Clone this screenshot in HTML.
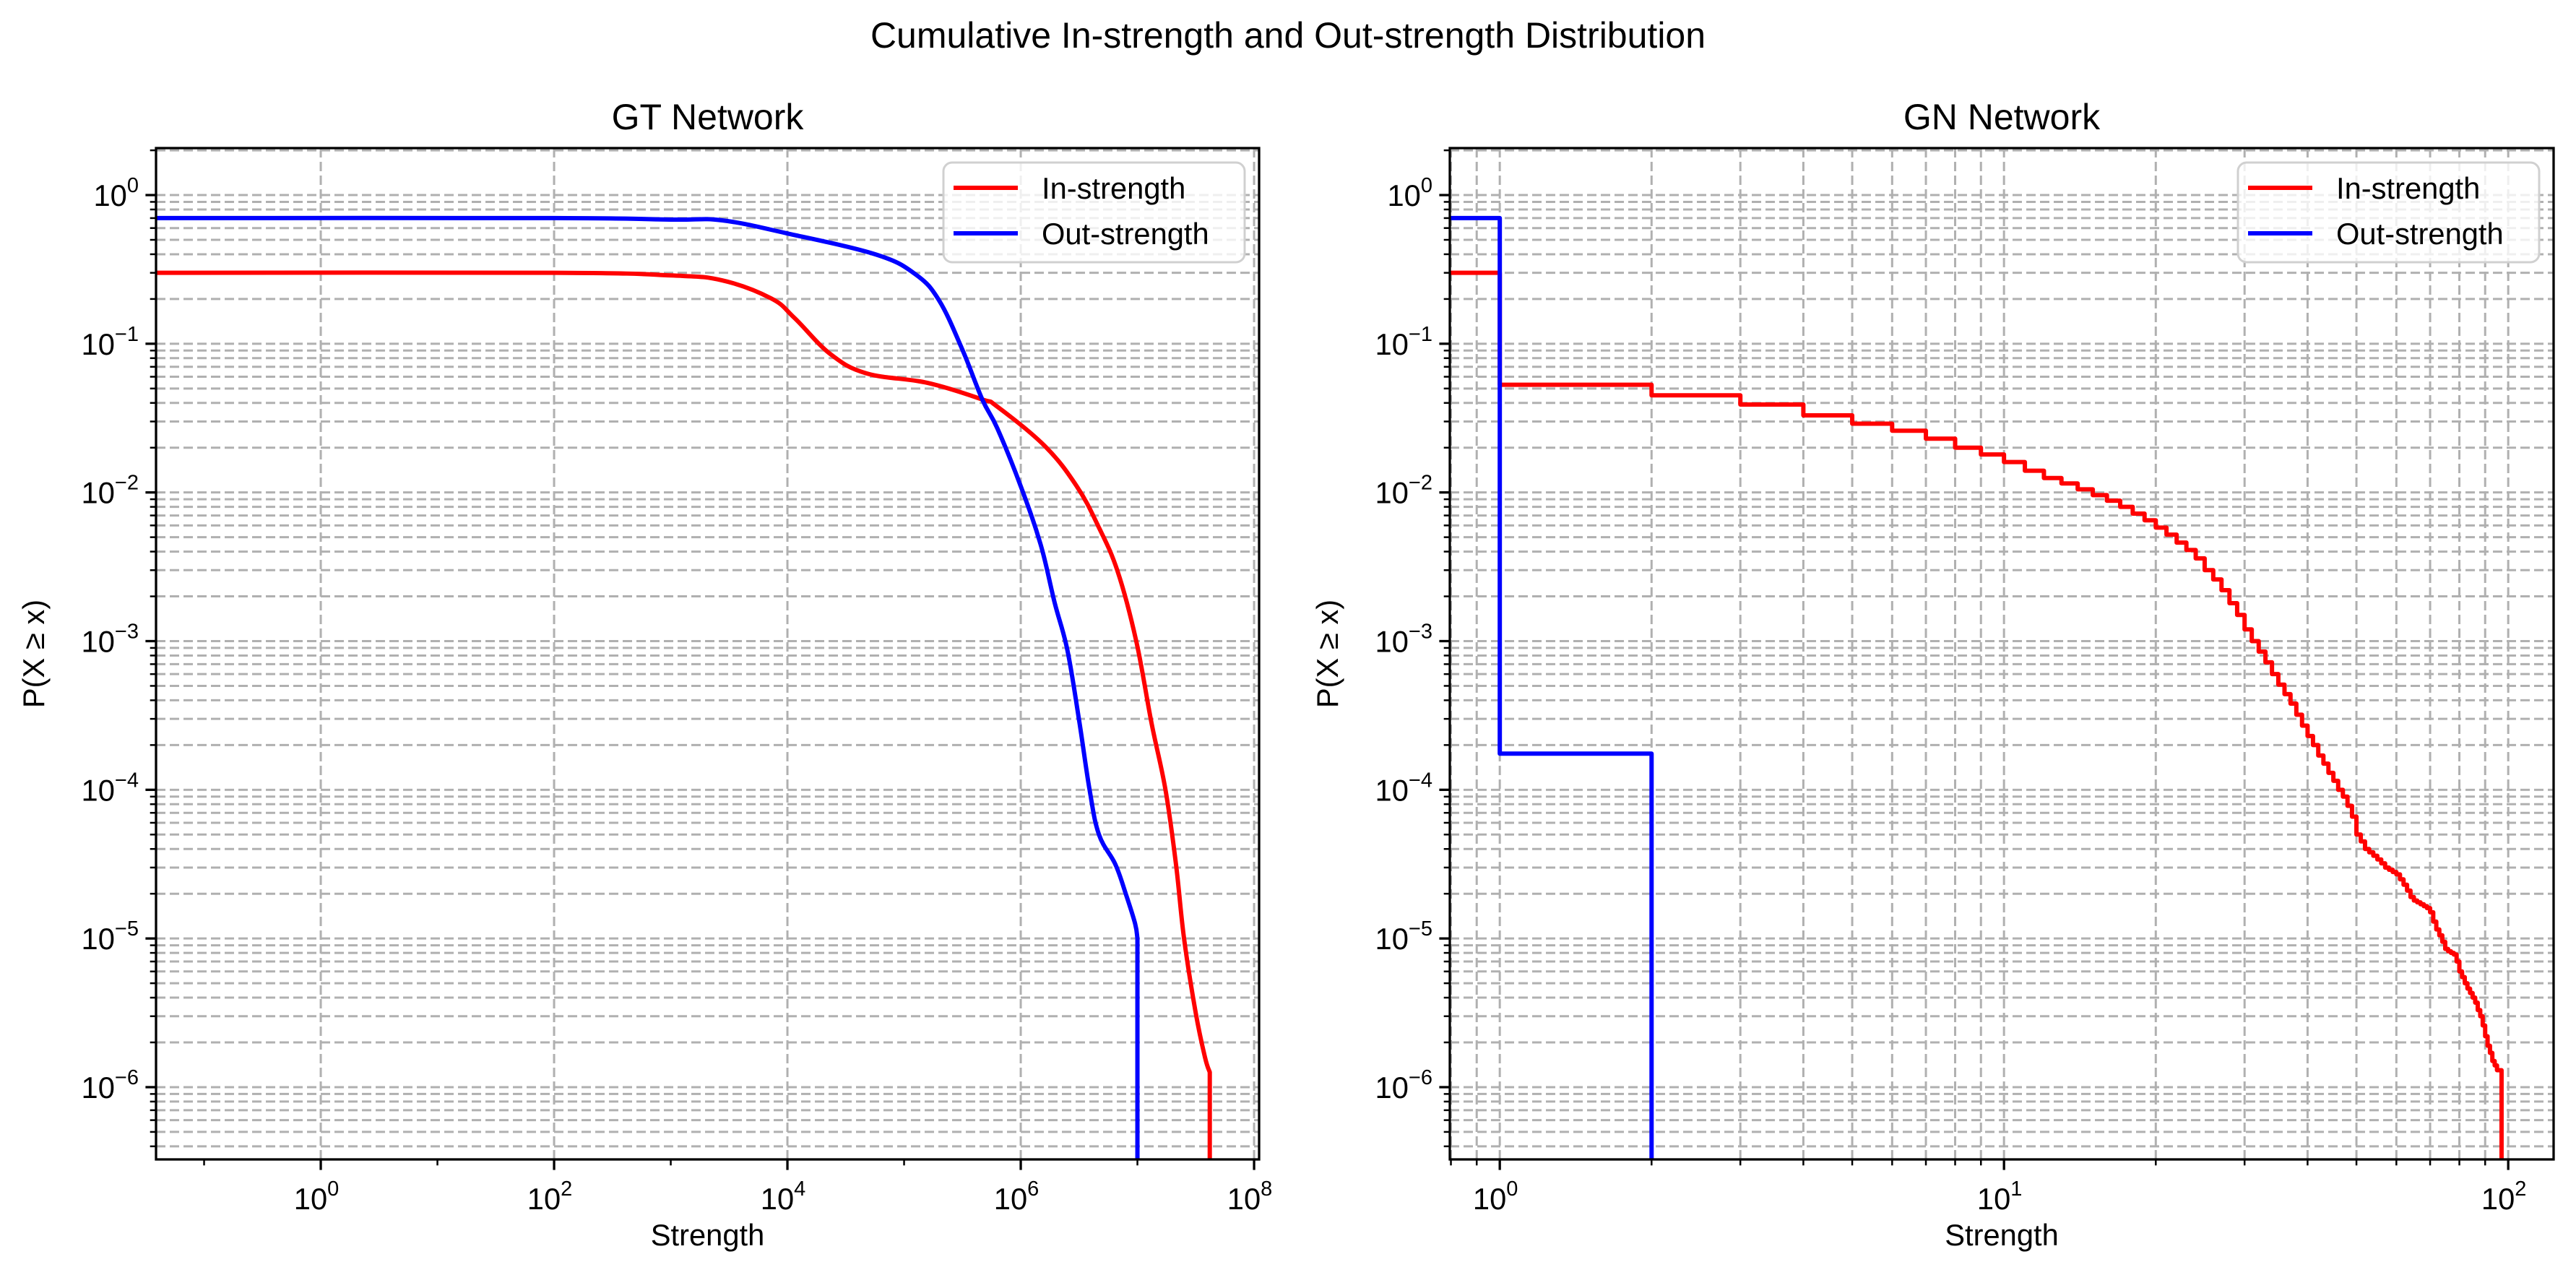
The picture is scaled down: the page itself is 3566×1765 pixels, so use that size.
<!DOCTYPE html>
<html><head><meta charset="utf-8"><style>
html,body{margin:0;padding:0;background:#fff;}
svg{display:block;font-family:"Liberation Sans","DejaVu Sans",sans-serif;}
</style></head><body>
<svg id="fig" width="3566" height="1765" viewBox="0 0 3566 1765" xmlns="http://www.w3.org/2000/svg">
<rect width="3566" height="1765" fill="#fff"/>
<text x="1783" y="66" font-size="50" text-anchor="middle">Cumulative In-strength and Out-strength Distribution</text>
<g id="p1"></g>
<g id="p2"></g>
</svg>
<script>
// GT Network data (strength, P(X>=x))
const gtInX = [0.039,100,1e3,2750,7240,11500,23400,47900,158000,468000,631000,1.62e6,3.02e6,4.57e6,6.76e6,9.77e6,1.32e7,1.74e7,2.14e7,2.51e7,3.16e7,3.8e7,4.17e7,4.17e7];
const gtInY = [0.3,0.3,0.288,0.267,0.202,0.149,0.0851,0.0631,0.0546,0.0422,0.0377,0.0204,0.011,0.00603,0.00295,1e-3,2.82e-4,1e-4,3.16e-5,1e-5,3.16e-6,1.58e-6,1.26e-6,1e-7];
const gtOutX = [0.039,100,1e3,2750,1e4,57500,126000,200000,316000,468000,631000,1e6,1.48e6,1.95e6,2.51e6,3.16e6,3.89e6,4.68e6,6.46e6,7.94e6,9.55e6,1e7,1e7];
const gtOutY = [0.7,0.7,0.684,0.676,0.552,0.398,0.292,0.195,0.0912,0.0422,0.0269,0.011,0.00447,0.00182,8.7e-4,2.95e-4,1e-4,5e-5,3.16e-5,2e-5,1.26e-5,1e-5,1e-7];
// GN Network step data
const gnInX = [0.796,1,2,3,4,5,6,7,8,9,10,11,12,13,14,15,16,17,18,19,20,21,22,23,24,25,26,27,28,29,30,31,32,33,34,35,36,37,38,39,40,41,42,43,44,45,46,47,48,49,50,51,52,53,54,55,56,57,58,59,60,61,62,63,64,65,66,67,68,69,70,71,72,73,74,75,76,77,78,79,80,81,82,83,84,85,86,87,88,89,90,91,92,93,94,95,96,97];
const gnInY = [0.3,0.053,0.045,0.039,0.033,0.029,0.026,0.023,0.020,0.018,0.016,0.014,0.0125,0.0115,0.0105,0.0096,0.0088,0.0080,0.0072,0.0065,0.0058,0.0052,0.0046,0.0041,0.0036,0.0030,0.0026,0.0022,0.0018,0.0015,0.0012,0.001,0.00085,0.00072,0.0006,0.00051,0.00044,0.00038,0.00032,0.00027,0.00023,0.0002,0.00017,0.00015,0.00013,0.000115,0.0001,0.00009,0.000078,0.000066,0.00005,0.000045,0.00004,0.000038,0.000036,0.000034,0.000032,0.00003,0.000029,0.000028,0.000027,0.000025,0.000023,0.000021,0.000019,0.000018,0.0000175,0.000017,0.0000165,0.000016,0.000015,0.000013,0.0000115,0.0000105,0.0000095,0.0000085,0.0000082,0.000008,0.0000078,0.000007,0.000006,0.0000055,0.000005,0.0000046,0.0000043,0.000004,0.0000037,0.0000033,0.000003,0.0000026,0.0000022,0.0000019,0.0000017,0.0000015,0.0000014,0.0000013,0.0000013,1e-7];
const gnOutX = [0.796,1,2];
const gnOutY = [0.7,1.75e-4,1e-7];
const yTickExp = [0,-1,-2,-3,-4,-5,-6];

const NS="http://www.w3.org/2000/svg";
function mk(parent,tag,attrs){const e=document.createElementNS(NS,tag);for(const k in attrs)e.setAttribute(k,attrs[k]);parent.appendChild(e);return e;}
const Y0=205,Y1=1605,LYMIN=-6.486,LYMAX=0.316;
function yPix(v){const l=Math.log10(v);return Y0+(LYMAX-l)/(LYMAX-LYMIN)*(Y1-Y0);}

function smoothPath(pts){
  const n=pts.length;let d='M'+pts[0][0]+','+pts[0][1];
  const last=n-1;
  for(let i=0;i<last-1;i++){
    const p0=pts[Math.max(0,i-1)],p1=pts[i],p2=pts[i+1],p3=pts[Math.min(last-1,i+2)];
    const t=0.18;
    const c1=[p1[0]+(p2[0]-p0[0])*t,p1[1]+(p2[1]-p0[1])*t];
    const c2=[p2[0]-(p3[0]-p1[0])*t,p2[1]-(p3[1]-p1[1])*t];
    d+=' C'+c1[0]+','+c1[1]+' '+c2[0]+','+c2[1]+' '+p2[0]+','+p2[1];
  }
  d+=' L'+pts[last][0]+','+pts[last][1];
  return d;
}

function panel(g,X0,X1,LXMIN,LXMAX,title,xMajor,xMinor,gridMinorX,series,legX){
  const xPix=v=>X0+(Math.log10(v)-LXMIN)/(LXMAX-LXMIN)*(X1-X0);
  const clip=mk(g,'clipPath',{id:'c'+X0});
  mk(clip,'rect',{x:X0,y:Y0,width:X1-X0,height:Y1-Y0});
  const grid=mk(g,'g',{stroke:'#b0b0b0','stroke-width':3,'stroke-dasharray':'13,6','clip-path':'url(#c'+X0+')'});
  
  
  for(let e=-7;e<=0;e++){for(let m=1;m<=9;m++){const v=m*Math.pow(10,e);const y=yPix(v);if(y<Y0-1||y>Y1+1)continue;
    mk(grid,'line',{x1:X0,x2:X1,y1:y,y2:y});}}
  const xs=xMajor.concat(gridMinorX?xMinor:[]);
  xs.forEach(v=>{const x=xPix(v);if(x<X0-1||x>X1+1)return;mk(grid,'line',{x1:x,x2:x,y1:Y0,y2:Y1});});
  series.forEach(s=>{
    let d='';
    if(s.step){
      for(let i=0;i<s.x.length;i++){const x=xPix(s.x[i]);const y=yPix(s.y[i]);
        if(i==0)d='M'+x+','+y;else d+=' L'+x+','+yPix(s.y[i-1])+' L'+x+','+y;}
    } else {
      d=smoothPath(s.x.map((v,i)=>[xPix(v),yPix(s.y[i])]));
    }
    const p=mk(g,'path',{d:d,fill:'none',stroke:s.c,'stroke-width':6,'stroke-linejoin':'round','clip-path':'url(#c'+X0+')'});
    
    
  });
  const fr=mk(g,'rect',{x:X0,y:Y0,width:X1-X0,height:Y1-Y0,fill:'none',stroke:'#000','stroke-width':3.3});
  
  
  for(let e=-7;e<=0;e++){for(let m=1;m<=9;m++){const y=yPix(m*Math.pow(10,e));if(y<Y0-1||y>Y1+1)continue;
    mk(g,'line',{x1:X0,x2:X0-(m==1?14.6:8.3),y1:y,y2:y,stroke:'#000','stroke-width':m==1?3.3:2.5});}}
  yTickExp.forEach(e=>{const y=yPix(Math.pow(10,e));
    const t=mk(g,'text',{x:X0-24,y:y+15,'font-size':41.7,'text-anchor':'end'});
    
    
    t.textContent='10';const s=mk(t,'tspan',{dy:-19,'font-size':29});s.textContent=(e<0?'\u2212'+(-e):''+e);});
  xMajor.forEach(v=>{const x=xPix(v);if(x<X0-1||x>X1+1)return;
    mk(g,'line',{x1:x,x2:x,y1:Y1,y2:Y1+14.6,stroke:'#000','stroke-width':3.3});
    const e=Math.round(Math.log10(v));
    const t=mk(g,'text',{x:x-6,y:Y1+69,'font-size':41.7,'text-anchor':'middle'});
    
    
    t.textContent='10';const s=mk(t,'tspan',{dy:-19,'font-size':29});s.textContent=(e<0?'\u2212'+(-e):''+e);});
  xMinor.forEach(v=>{const x=xPix(v);if(x<X0-1||x>X1+1)return;
    mk(g,'line',{x1:x,x2:x,y1:Y1,y2:Y1+8.3,stroke:'#000','stroke-width':2.5});});
  const cx=(X0+X1)/2;
  let t=mk(g,'text',{x:cx,y:Y0-26,'font-size':50,'text-anchor':'middle'});t.textContent=title;
  
  
  t=mk(g,'text',{x:cx,y:1724,'font-size':41.7,'text-anchor':'middle'});t.textContent='Strength';
  
  
  t=mk(g,'text',{x:0,y:0,'font-size':41.7,'text-anchor':'middle',transform:'translate('+(X0-155)+','+((Y0+Y1)/2)+') rotate(-90)'});t.textContent='P(X \u2265 x)';
  
  
  const lg=mk(g,'g',{});
  
  
  mk(lg,'rect',{x:legX,y:225,width:417,height:138,rx:12,fill:'#fff','fill-opacity':0.8,stroke:'#d0d0d0','stroke-width':3});
  series.forEach((s,i)=>{const y=260+i*63;
    mk(lg,'line',{x1:legX+14,x2:legX+103,y1:y,y2:y,stroke:s.c,'stroke-width':6});
    const tt=mk(lg,'text',{x:legX+136,y:y+15,'font-size':41.7});tt.textContent=s.label;
    
    });
}
const p1=document.getElementById('p1'),p2=document.getElementById('p2');
panel(p1,216,1743,-1.412,8.043,'GT Network',[1,1e2,1e4,1e6,1e8],[0.1,10,1e3,1e5,1e7],false,
  [{x:gtInX,y:gtInY,c:'#ff0000',label:'In-strength',name:'gt-in-strength-line'},
   {x:gtOutX,y:gtOutY,c:'#0000ff',label:'Out-strength',name:'gt-out-strength-line'}],1306);
const minorR=[0.8,0.9,2,3,4,5,6,7,8,9,20,30,40,50,60,70,80,90];
panel(p2,2007,3535,-0.0991,2.09,'GN Network',[1,10,100],minorR,true,
  [{x:gnInX,y:gnInY,c:'#ff0000',label:'In-strength',name:'gn-in-strength-line',step:true},
   {x:gnOutX,y:gnOutY,c:'#0000ff',label:'Out-strength',name:'gn-out-strength-line',step:true}],3098);
</script>
</body></html>
